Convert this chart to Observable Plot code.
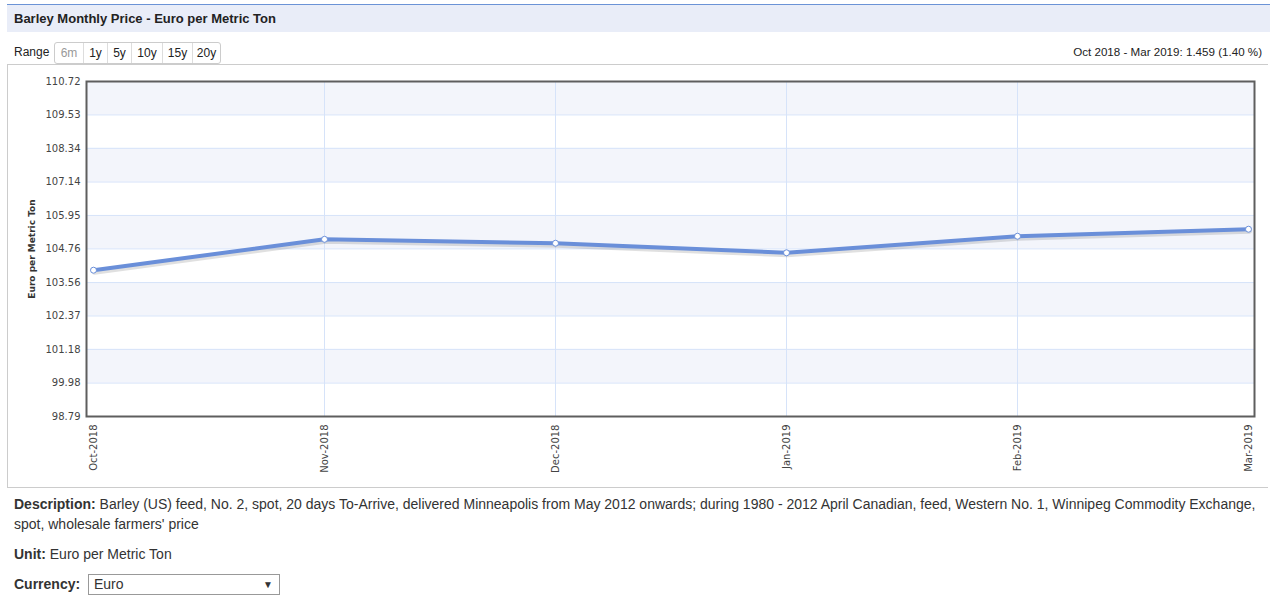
<!DOCTYPE html>
<html><head><meta charset="utf-8">
<script src="https://cdn.jsdelivr.net/npm/d3@7"></script>
<script src="https://cdn.jsdelivr.net/npm/@observablehq/plot@0.6"></script>
<style>
body{margin:0;background:#fff;font-family:"Liberation Sans",Arial,sans-serif;color:#333;width:1270px;height:602px;position:relative;overflow:hidden}
.abs{position:absolute}
#hdr{left:7px;top:4px;width:1263px;height:27px;background:#e9edf8;border-top:1px solid #6b93d6}
#hdr span{position:absolute;left:7px;top:6px;font-size:13px;font-weight:bold;color:#222}
#range{left:14px;top:45px;font-size:12px;color:#222}
#btns{left:54px;top:42px;display:flex;border:1px solid #ccc;border-radius:3px;height:20px}
#btns div{font-size:12px;line-height:20px;text-align:center;border-left:1px solid #ddd;color:#222;box-sizing:border-box}
#btns div:first-child{border-left:none;color:#999}
#chg{right:8px;top:45px;font-size:11.6px;color:#222}
#box{left:7px;top:64px;width:1261px;height:424px;border:1px solid #ccc;border-right:none;box-sizing:border-box}
#chart{left:0;top:65px}
.desc{left:14px;font-size:14px;color:#333;line-height:20px}
#sel{left:88px;top:574px;width:190px;height:19px;border:1px solid #999;font-size:14px;line-height:19px;box-sizing:content-box}
#sel span{position:absolute;left:5px;top:0}
#sel i{position:absolute;right:6px;top:0;font-style:normal;font-size:10px}
</style></head>
<body>
<div id="hdr" class="abs"><span id="title"></span></div>
<div id="range" class="abs">Range</div>
<div id="btns" class="abs"></div>
<div id="chg" class="abs"></div>
<div id="box" class="abs"></div>
<div id="chart" class="abs"></div>
<div class="abs desc" style="top:494px"><b>Description:</b> Barley (US) feed, No. 2, spot, 20 days To-Arrive, delivered Minneapolis from May 2012 onwards; during 1980 - 2012 April Canadian, feed, Western No. 1, Winnipeg Commodity Exchange,<br>spot, wholesale farmers' price</div>
<div class="abs desc" style="top:544px"><b>Unit:</b> Euro per Metric Ton</div>
<div class="abs desc" style="top:574px"><b>Currency:</b></div>
<div id="sel" class="abs"><span>Euro</span><i>&#9660;</i></div>
<script>
const title = "Barley Monthly Price - Euro per Metric Ton";
const yLabel = "Euro per Metric Ton";
const months = ["Oct-2018","Nov-2018","Dec-2018","Jan-2019","Feb-2019","Mar-2019"];
const prices = [104.00, 105.10, 104.96, 104.62, 105.21, 105.46];
const yTicks = [98.79, 99.98, 101.18, 102.37, 103.56, 104.76, 105.95, 107.14, 108.34, 109.53, 110.72];
const rangeButtons = ["6m","1y","5y","10y","15y","20y"];
const buttonWidths = [28,24,24,31,30,28];
const changeText = "Oct 2018 - Mar 2019: 1.459 (1.40 %)";

document.getElementById("title").textContent = title;
document.getElementById("chg").textContent = changeText;
const btns = document.getElementById("btns");
rangeButtons.forEach((b,i)=>{const d=document.createElement("div");d.textContent=b;d.style.width=buttonWidths[i]+"px";btns.appendChild(d);});

const data = months.map((m,i)=>({month:m, price:prices[i]}));
const bands = yTicks.slice(0,-1).map((v,i)=>({y1:v, y2:yTicks[i+1], light: i%2===1})).filter(d=>d.light);
const lineColor = "#6a8fd9";

const chart = Plot.plot({
  width: 1270, height: 420,
  marginLeft: 86, marginRight: 16, marginTop: 16, marginBottom: 69,
  style: {fontFamily: "DejaVu Sans", fontSize: "10px", color: "#444", background: "transparent"},
  x: {type: "point", domain: months, padding: 0.026, tickRotate: -90, tickSize: 0, tickPadding: 8, label: null},
  y: {domain: [98.79, 110.72], ticks: yTicks, tickFormat: d=>d.toFixed(2), tickSize: 0, tickPadding: 6, label: null},
  marks: [
    Plot.rect(bands, {y1:"y1", y2:"y2", fill:"#f3f5fb"}),
    Plot.ruleY(yTicks.slice(1,-1), {stroke:"#d6e3f9", strokeWidth:1}),
    Plot.ruleX(months.slice(1,-1), {stroke:"#d6e3f9", strokeWidth:1}),
    Plot.line(data, {x:"month", y:"price", stroke:"#000", strokeOpacity:0.12, strokeWidth:5, dx:1, dy:2}),
    Plot.line(data, {x:"month", y:"price", stroke:lineColor, strokeWidth:4}),
    Plot.dot(data, {x:"month", y:"price", r:3, fill:"#fff", stroke:lineColor, strokeWidth:1}),
    Plot.text([yLabel], {text:d=>d, frameAnchor:"left", textAnchor:"middle", dx:-54, rotate:-90, fontWeight:"bold", fontSize:9, fill:"#333"}),
    Plot.frame({stroke:"#5e5e5e", strokeWidth:2})
  ]
});
document.getElementById("chart").appendChild(chart);
</script>
</body></html>
